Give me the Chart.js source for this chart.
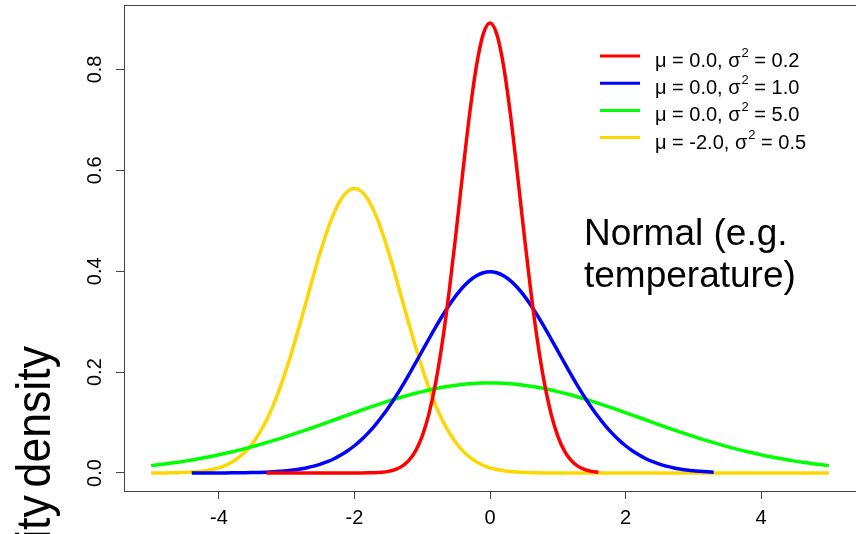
<!DOCTYPE html>
<html>
<head>
<meta charset="utf-8">
<title>Normal distribution densities</title>
<script src="https://cdn.jsdelivr.net/npm/chart.js@4"></script>
<style>
  html, body { margin: 0; padding: 0; background: #fff; }
  canvas { display: block; }
</style>
</head>
<body>
<canvas id="densityChart" width="856" height="534"></canvas>
<script>
// x grid shared by all four curves, step 0.1
const xs = [
    -5.0, -4.9, -4.8, -4.7, -4.6, -4.5, -4.4, -4.3, -4.2, -4.1,
    -4.0, -3.9, -3.8, -3.7, -3.6, -3.5, -3.4, -3.3, -3.2, -3.1,
    -3.0, -2.9, -2.8, -2.7, -2.6, -2.5, -2.4, -2.3, -2.2, -2.1,
    -2.0, -1.9, -1.8, -1.7, -1.6, -1.5, -1.4, -1.3, -1.2, -1.1,
    -1.0, -0.9, -0.8, -0.7, -0.6, -0.5, -0.4, -0.3, -0.2, -0.1,
    0.0, 0.1, 0.2, 0.3, 0.4, 0.5, 0.6, 0.7, 0.8, 0.9,
    1.0, 1.1, 1.2, 1.3, 1.4, 1.5, 1.6, 1.7, 1.8, 1.9,
    2.0, 2.1, 2.2, 2.3, 2.4, 2.5, 2.6, 2.7, 2.8, 2.9,
    3.0, 3.1, 3.2, 3.3, 3.4, 3.5, 3.6, 3.7, 3.8, 3.9,
    4.0, 4.1, 4.2, 4.3, 4.4, 4.5, 4.6, 4.7, 4.8, 4.9,
    5.0,
];

// mu = 0, sigma^2 = 0.2 (null = not drawn)
const densRed = [
    null, null, null, null, null, null, null, null, null, null,
    null, null, null, null, null, null, null, 0, 0, 0,
    0, 0, 0, 0, 0, 0, 0, 0, 0, 0,
    0, 0.0001, 0.0003, 0.0006, 0.0015, 0.0032, 0.0066, 0.0131, 0.0244, 0.0433,
    0.0732, 0.1178, 0.1801, 0.2621, 0.3627, 0.4775, 0.5980, 0.7124, 0.8072, 0.8701,
    0.8921, 0.8701, 0.8072, 0.7124, 0.5980, 0.4775, 0.3627, 0.2621, 0.1801, 0.1178,
    0.0732, 0.0433, 0.0244, 0.0131, 0.0066, 0.0032, 0.0015, null, null, null,
    null, null, null, null, null, null, null, null, null, null,
    null, null, null, null, null, null, null, null, null, null,
    null, null, null, null, null, null, null, null, null, null,
    null,
];

// mu = 0, sigma^2 = 1
const densBlue = [
    null, null, null, null, null, null, 0, 0, 0.0001, 0.0001,
    0.0001, 0.0002, 0.0003, 0.0004, 0.0006, 0.0009, 0.0012, 0.0017, 0.0024, 0.0033,
    0.0044, 0.0060, 0.0079, 0.0104, 0.0136, 0.0175, 0.0224, 0.0283, 0.0355, 0.0440,
    0.0540, 0.0656, 0.0790, 0.0940, 0.1109, 0.1295, 0.1497, 0.1714, 0.1942, 0.2179,
    0.2420, 0.2661, 0.2897, 0.3123, 0.3332, 0.3521, 0.3683, 0.3814, 0.3910, 0.3970,
    0.3989, 0.3970, 0.3910, 0.3814, 0.3683, 0.3521, 0.3332, 0.3123, 0.2897, 0.2661,
    0.2420, 0.2179, 0.1942, 0.1714, 0.1497, 0.1295, 0.1109, 0.0940, 0.0790, 0.0656,
    0.0540, 0.0440, 0.0355, 0.0283, 0.0224, 0.0175, 0.0136, 0.0104, 0.0079, 0.0060,
    0.0044, 0.0033, 0.0024, 0.0017, null, null, null, null, null, null,
    null, null, null, null, null, null, null, null, null, null,
    null,
];

// mu = 0, sigma^2 = 5
const densGreen = [
    0.0146, 0.0162, 0.0178, 0.0196, 0.0215, 0.0235, 0.0257, 0.0281, 0.0306, 0.0332,
    0.0360, 0.0390, 0.0421, 0.0454, 0.0488, 0.0524, 0.0562, 0.0601, 0.0641, 0.0682,
    0.0725, 0.0770, 0.0815, 0.0861, 0.0907, 0.0955, 0.1003, 0.1051, 0.1100, 0.1148,
    0.1196, 0.1244, 0.1290, 0.1336, 0.1381, 0.1425, 0.1467, 0.1507, 0.1545, 0.1581,
    0.1614, 0.1645, 0.1674, 0.1699, 0.1721, 0.1740, 0.1756, 0.1768, 0.1777, 0.1782,
    0.1784, 0.1782, 0.1777, 0.1768, 0.1756, 0.1740, 0.1721, 0.1699, 0.1674, 0.1645,
    0.1614, 0.1581, 0.1545, 0.1507, 0.1467, 0.1425, 0.1381, 0.1336, 0.1290, 0.1244,
    0.1196, 0.1148, 0.1100, 0.1051, 0.1003, 0.0955, 0.0907, 0.0861, 0.0815, 0.0770,
    0.0725, 0.0682, 0.0641, 0.0601, 0.0562, 0.0524, 0.0488, 0.0454, 0.0421, 0.0390,
    0.0360, 0.0332, 0.0306, 0.0281, 0.0257, 0.0235, 0.0215, 0.0196, 0.0178, 0.0162,
    0.0146,
];

// mu = -2, sigma^2 = 0.5
const densGold = [
    0.0001, 0.0001, 0.0002, 0.0004, 0.0007, 0.0011, 0.0018, 0.0028, 0.0045, 0.0069,
    0.0103, 0.0153, 0.0221, 0.0314, 0.0436, 0.0595, 0.0795, 0.1041, 0.1337, 0.1683,
    0.2076, 0.2510, 0.2975, 0.3456, 0.3936, 0.4394, 0.4808, 0.5156, 0.5421, 0.5586,
    0.5642, 0.5586, 0.5421, 0.5156, 0.4808, 0.4394, 0.3936, 0.3456, 0.2975, 0.2510,
    0.2076, 0.1683, 0.1337, 0.1041, 0.0795, 0.0595, 0.0436, 0.0314, 0.0221, 0.0153,
    0.0103, 0.0069, 0.0045, 0.0028, 0.0018, 0.0011, 0.0007, 0.0004, 0.0002, 0.0001,
    0.0001, 0, 0, 0, 0, 0, 0, 0, 0, 0,
    0, 0, 0, 0, 0, 0, 0, 0, 0, 0,
    0, 0, 0, 0, 0, 0, 0, 0, 0, 0,
    0, 0, 0, 0, 0, 0, 0, 0, 0, 0,
    0,
];

const means = ['0.0', '0.0', '0.0', '-2.0'];
const variances = ['0.2', '1.0', '5.0', '0.5'];
const colours = ['#FF0000', '#0000FF', '#00FF00', '#FFD700'];

const xTicks = [-4, -2, 0, 2, 4];
const yTicks = [0, 0.2, 0.4, 0.6, 0.8];
const xMin = -5.4, xMax = 5.4;
const yMin = -0.0357, yMax = 0.9278;

const FONT = '"Liberation Sans", Arial, sans-serif';
Chart.defaults.font.family = FONT;

function points(ys) {
    return xs.map((x, i) => ({ x: x, y: ys[i] })).filter(p => p.y !== null);
}

// frame, legend, side note and the y title
const overlay = {
    id: 'overlay',
    afterDraw(chart) {
        const ctx = chart.ctx;
        const a = chart.chartArea;
        ctx.save();

        ctx.strokeStyle = '#444';
        ctx.lineWidth = 1;
        ctx.strokeRect(a.left + 0.5, a.top + 0.5, a.right - a.left, a.bottom - a.top);

        const main = '20px ' + FONT;
        const sup = '13px ' + FONT;
        ctx.textAlign = 'left';
        ctx.textBaseline = 'alphabetic';
        chart.data.datasets.forEach((ds, i) => {
            const y = 56 + i * 27.2;
            ctx.strokeStyle = ds.borderColor;
            ctx.lineWidth = 3;
            ctx.beginPath();
            ctx.moveTo(600, y);
            ctx.lineTo(640, y);
            ctx.stroke();

            const base = y + 11;
            let x = 655;
            const head = '\u03bc = ' + means[i] + ', \u03c3';
            ctx.fillStyle = '#000';
            ctx.font = main;
            ctx.fillText(head, x, base);
            x += ctx.measureText(head).width + 1;
            ctx.font = sup;
            ctx.fillText('2', x, base - 10);
            x += ctx.measureText('2').width;
            ctx.font = main;
            ctx.fillText(' = ' + variances[i], x, base);
        });

        ctx.font = '37px ' + FONT;
        ctx.fillText('Normal (e.g.', 584, 245);
        ctx.fillText('temperature)', 584, 287);

        // y title, runs off the bottom edge
        ctx.translate(50, 346);
        ctx.rotate(-Math.PI / 2);
        ctx.scale(0.93, 1);
        ctx.textAlign = 'right';
        ctx.font = '48px ' + FONT;
        if ('wordSpacing' in ctx) ctx.wordSpacing = '-5px';
        ctx.fillText('Probability density', 0, 0);

        ctx.restore();
    },
};

new Chart(document.getElementById('densityChart'), {
    type: 'line',
    data: {
        datasets: [densRed, densBlue, densGreen, densGold].map((ys, i) => ({
            label: '\u03bc = ' + means[i] + ', \u03c3\u00b2 = ' + variances[i],
            data: points(ys),
            borderColor: colours[i],
            backgroundColor: colours[i],
        })),
    },
    options: {
        responsive: false,
        animation: false,
        layout: { padding: { top: 5, right: 0, bottom: 0, left: 0 } },
        plugins: {
            legend: { display: false },
            tooltip: { enabled: false },
        },
        elements: {
            point: { radius: 0 },
            line: { borderWidth: 3.5, cubicInterpolationMode: 'monotone' },
        },
        scales: {
            x: {
                type: 'linear',
                min: xMin,
                max: xMax,
                afterBuildTicks: s => { s.ticks = xTicks.map(v => ({ value: v })); },
                afterFit: s => { s.height = 43; },
                border: { display: false },
                grid: { drawOnChartArea: false, tickLength: 8, color: '#444' },
                ticks: {
                    color: '#000',
                    font: { size: 20 },
                    padding: 7,
                    autoSkip: false,
                    maxRotation: 0,
                    callback: v => String(v),
                },
            },
            y: {
                type: 'linear',
                min: yMin,
                max: yMax,
                afterBuildTicks: s => { s.ticks = yTicks.map(v => ({ value: v })); },
                afterFit: s => {
                    s.width = 124;
                    s.paddingTop = 0;
                    s.paddingBottom = 0;
                },
                border: { display: false },
                grid: { drawOnChartArea: false, tickLength: 8, color: '#444' },
                ticks: {
                    color: '#000',
                    font: { size: 20 },
                    padding: 7,
                    autoSkip: false,
                    minRotation: 90,
                    maxRotation: 90,
                    crossAlign: 'center',
                    callback: v => v.toFixed(1),
                },
            },
        },
    },
    plugins: [overlay],
});
</script>
</body>
</html>
